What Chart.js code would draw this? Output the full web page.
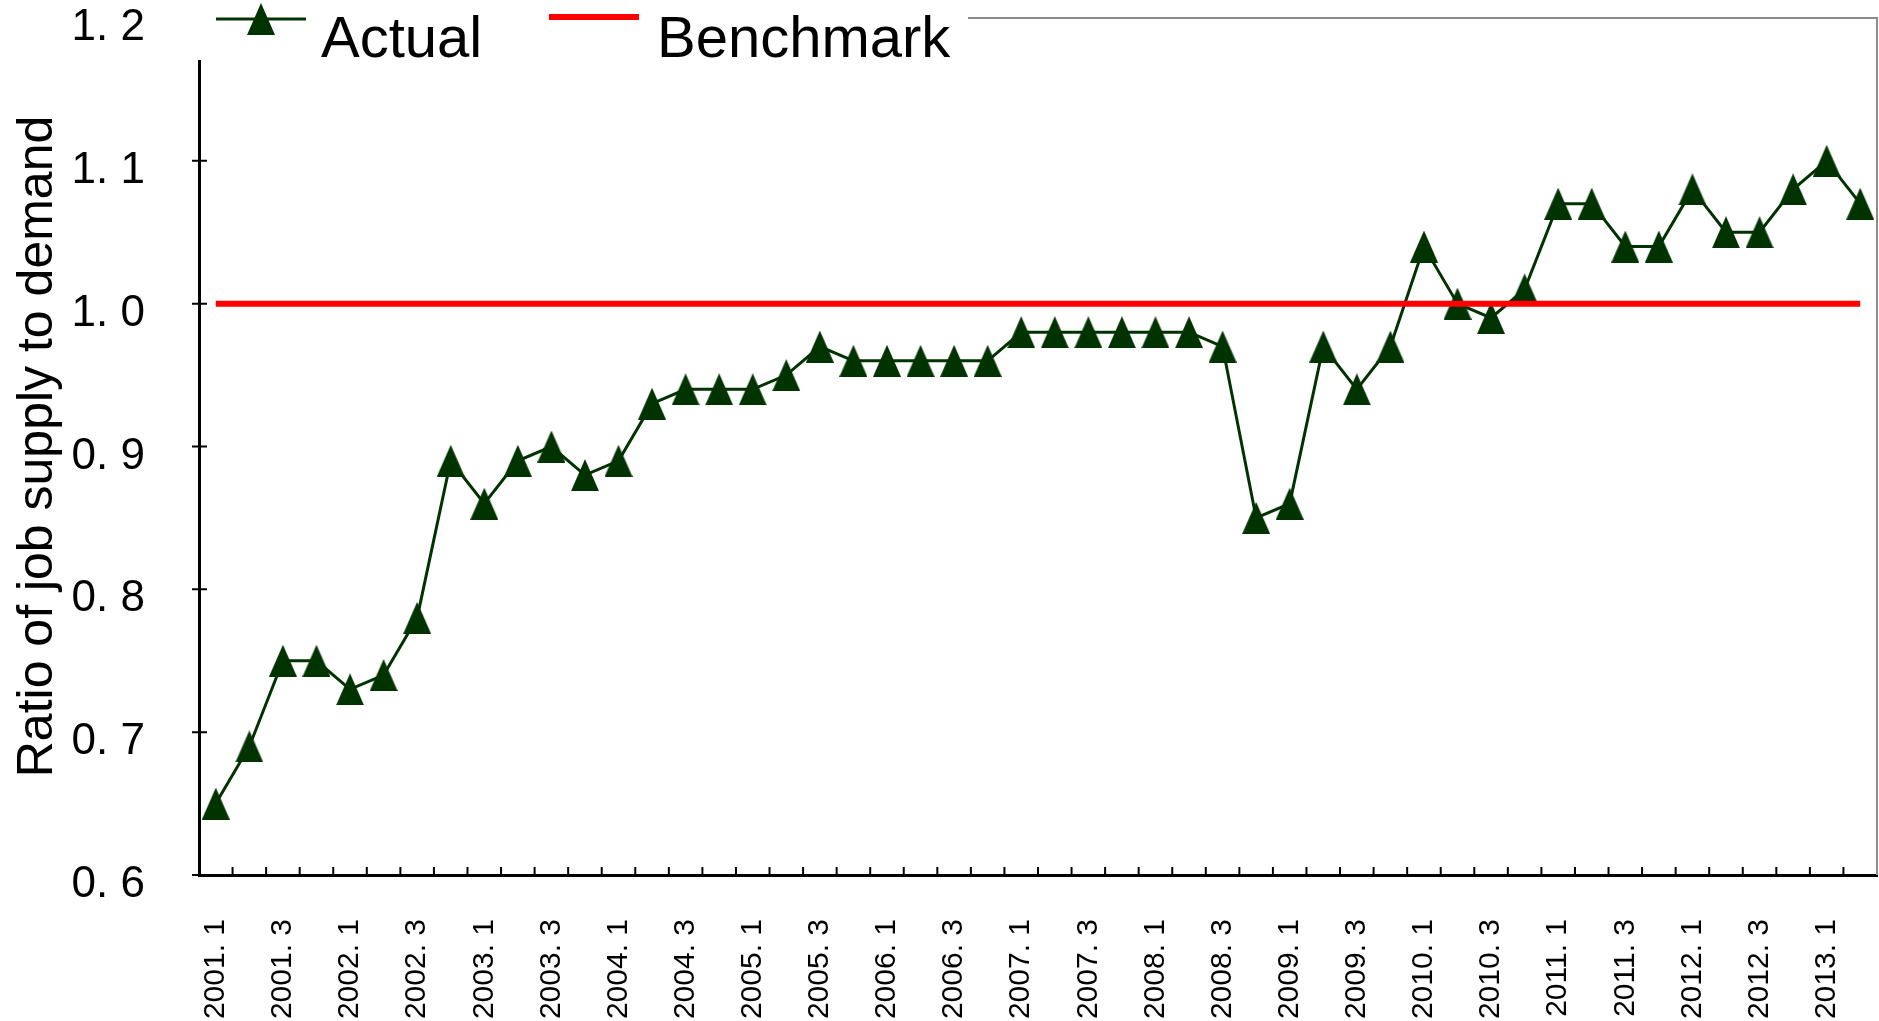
<!DOCTYPE html>
<html>
<head>
<meta charset="utf-8">
<script src="https://cdn.jsdelivr.net/npm/chart.js@4.4.0/dist/chart.umd.min.js"></script>
<style>
  body { margin: 0; background: #fff; }
  #chart { display: block; }
</style>
</head>
<body>
<canvas id="chart" width="1879" height="1021"></canvas>
<script>
const quarters = [
    '2001.1', '2001.2', '2001.3', '2001.4', '2002.1', '2002.2', '2002.3', '2002.4',
    '2003.1', '2003.2', '2003.3', '2003.4', '2004.1', '2004.2', '2004.3', '2004.4',
    '2005.1', '2005.2', '2005.3', '2005.4', '2006.1', '2006.2', '2006.3', '2006.4',
    '2007.1', '2007.2', '2007.3', '2007.4', '2008.1', '2008.2', '2008.3', '2008.4',
    '2009.1', '2009.2', '2009.3', '2009.4', '2010.1', '2010.2', '2010.3', '2010.4',
    '2011.1', '2011.2', '2011.3', '2011.4', '2012.1', '2012.2', '2012.3', '2012.4',
    '2013.1', '2013.2'
];
const actualValues = [
    0.65, 0.69, 0.75, 0.75, 0.73, 0.74, 0.78, 0.89,
    0.86, 0.89, 0.90, 0.88, 0.89, 0.93, 0.94, 0.94,
    0.94, 0.95, 0.97, 0.96, 0.96, 0.96, 0.96, 0.96,
    0.98, 0.98, 0.98, 0.98, 0.98, 0.98, 0.97, 0.85,
    0.86, 0.97, 0.94, 0.97, 1.04, 1.00, 0.99, 1.01,
    1.07, 1.07, 1.04, 1.04, 1.08, 1.05, 1.05, 1.08,
    1.10, 1.07
];
const benchmarkValues = [
    1.0, 1.0, 1.0, 1.0, 1.0, 1.0, 1.0, 1.0, 1.0, 1.0,
    1.0, 1.0, 1.0, 1.0, 1.0, 1.0, 1.0, 1.0, 1.0, 1.0,
    1.0, 1.0, 1.0, 1.0, 1.0, 1.0, 1.0, 1.0, 1.0, 1.0,
    1.0, 1.0, 1.0, 1.0, 1.0, 1.0, 1.0, 1.0, 1.0, 1.0,
    1.0, 1.0, 1.0, 1.0, 1.0, 1.0, 1.0, 1.0, 1.0, 1.0
];
const yTickLabels = ['0. 6', '0. 7', '0. 8', '0. 9', '1. 0', '1. 1', '1. 2'];
const seriesNames = ['Actual', 'Benchmark'];
const yTitle = 'Ratio of job supply to demand';

const green = '#003300';
const red = '#ff0000';

// filled triangle marker, a bit taller than wide like the original
function makeTriangle(w, h) {
    const c = document.createElement('canvas');
    c.width = w;
    c.height = h;
    const g = c.getContext('2d');
    g.fillStyle = green;
    g.beginPath();
    g.moveTo(w / 2, 0);
    g.lineTo(w, h);
    g.lineTo(0, h);
    g.closePath();
    g.fill();
    return c;
}
const triangle = makeTriangle(28, 32);

function noPadding(scale) {
    scale.paddingTop = 0;
    scale.paddingBottom = 0;
    scale.paddingLeft = 0;
    scale.paddingRight = 0;
}

const framePlugin = {
    id: 'frame',
    beforeDatasetsDraw(chart) {
        const ctx = chart.ctx;
        const a = chart.chartArea;
        const xs = chart.scales.x;
        const ys = chart.scales.y;
        ctx.save();
        // grey top and right border
        ctx.strokeStyle = '#8c8c8c';
        ctx.lineWidth = 2;
        ctx.beginPath();
        ctx.moveTo(a.left, a.top);
        ctx.lineTo(a.right, a.top);
        ctx.lineTo(a.right, a.bottom);
        ctx.stroke();
        // inner ticks on the category axis, between the quarters
        ctx.strokeStyle = '#000';
        ctx.lineWidth = 2;
        ctx.beginPath();
        for (let i = 1; i < quarters.length; i++) {
            const x = (xs.getPixelForValue(i - 1) + xs.getPixelForValue(i)) / 2;
            ctx.moveTo(x, a.bottom);
            ctx.lineTo(x, a.bottom - 8);
        }
        // ticks on the value axis
        ys.ticks.forEach(t => {
            const y = ys.getPixelForValue(t.value);
            ctx.moveTo(a.left - 7, y);
            ctx.lineTo(a.left + 8, y);
        });
        ctx.stroke();
        ctx.restore();
    },
    afterDraw(chart) {
        const ctx = chart.ctx;
        ctx.save();
        ctx.fillStyle = '#fff';
        ctx.fillRect(185, 0, 783, 60);
        // Actual
        ctx.strokeStyle = green;
        ctx.lineWidth = 3;
        ctx.beginPath();
        ctx.moveTo(216, 19);
        ctx.lineTo(306, 19);
        ctx.stroke();
        ctx.drawImage(triangle, 261 - 14, 19 - 16);
        // Benchmark
        ctx.strokeStyle = red;
        ctx.lineWidth = 6;
        ctx.beginPath();
        ctx.moveTo(549, 17);
        ctx.lineTo(639, 17);
        ctx.stroke();
        ctx.fillStyle = '#000';
        ctx.font = '58px "Liberation Sans", Arial, sans-serif';
        ctx.textBaseline = 'alphabetic';
        ctx.fillText(seriesNames[0], 321, 57);
        ctx.fillText(seriesNames[1], 657, 57);
        ctx.restore();
    }
};

const ctx = document.getElementById('chart').getContext('2d');
const chart = new Chart(ctx, {
    type: 'line',
    data: {
        labels: quarters,
        datasets: [{
            label: seriesNames[0],
            data: actualValues,
            borderColor: green,
            backgroundColor: green,
            borderWidth: 3,
            pointStyle: triangle,
            pointRadius: 14,
            tension: 0,
            order: 1
        }, {
            label: seriesNames[1],
            data: benchmarkValues,
            borderColor: red,
            backgroundColor: red,
            borderWidth: 6,
            pointRadius: 0,
            tension: 0,
            order: 0
        }]
    },
    options: {
        responsive: false,
        animation: false,
        devicePixelRatio: 1,
        layout: {
            autoPadding: false,
            padding: { top: 18, right: 2, left: 0, bottom: 0 }
        },
        plugins: {
            legend: { display: false },
            tooltip: { enabled: false }
        },
        scales: {
            x: {
                type: 'category',
                offset: true,
                grid: { display: false, offset: true },
                border: { color: '#000', width: 3 },
                ticks: {
                    autoSkip: false,
                    maxRotation: 90,
                    minRotation: 90,
                    padding: 36,
                    color: '#000',
                    font: { family: '"Liberation Sans", Arial, sans-serif', size: 30 },
                    callback: function(val, i) {
                        return i % 2 === 0 ? quarters[i].replace('.', '. ') : '';
                    }
                },
                afterFit: function(scale) {
                    scale.height = 146;
                    noPadding(scale);
                }
            },
            y: {
                min: 0.6,
                max: 1.2,
                grid: { display: false },
                border: { color: '#000', width: 3 },
                ticks: {
                    stepSize: 0.1,
                    padding: 46,
                    labelOffset: 10,
                    color: '#000',
                    font: { family: '"Liberation Sans", Arial, sans-serif', size: 44 },
                    callback: function(value) {
                        return yTickLabels[Math.round((value - 0.6) * 10)];
                    }
                },
                title: {
                    display: true,
                    text: yTitle,
                    color: '#000',
                    padding: { top: 8, bottom: 0 },
                    font: { family: '"Liberation Sans", Arial, sans-serif', size: 50 }
                },
                afterFit: function(scale) {
                    scale.width = 199;
                    noPadding(scale);
                }
            }
        }
    },
    plugins: [framePlugin]
});
</script>
</body>
</html>
